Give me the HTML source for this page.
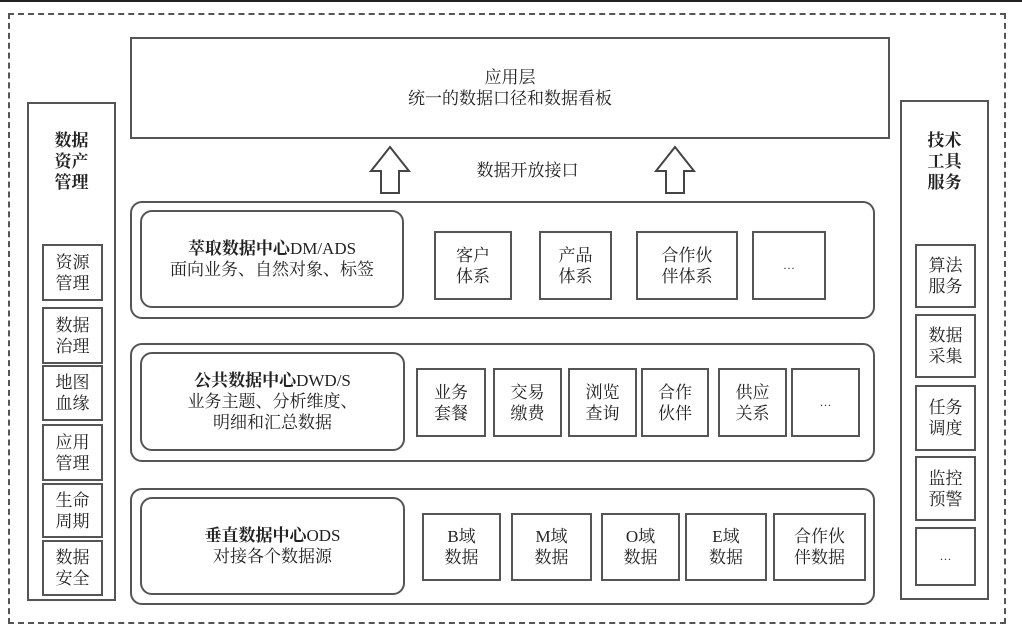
<!DOCTYPE html><html><head><meta charset="utf-8"><style>
body{margin:0;width:1022px;height:642px;background:#fff;position:relative;overflow:hidden;font-family:"Liberation Serif","Noto Serif CJK SC",serif;color:#222}
.b{position:absolute;border:2px solid #555;box-sizing:border-box;display:flex;align-items:center;justify-content:center;text-align:center;font-size:17px;line-height:21px}
.r{border-radius:12px}
.t{position:absolute;text-align:center;font-size:17px;line-height:21px}
</style></head><body>
<div style="position:absolute;left:0;top:0;width:1022px;height:2px;background:#222"></div>
<div style="position:absolute;left:8px;top:13px;width:998px;height:611px;border:2px dashed #555;box-sizing:border-box"></div>
<div class="b" style="left:130px;top:37px;width:760px;height:102px">应用层<br>统一的数据口径和数据看板</div>
<svg style="position:absolute;left:0;top:0" width="1022" height="642"><g fill="#fff" stroke="#444" stroke-width="2"><polygon points="390,147 409,171 399,171 399,193 381,193 381,171 371,171"/><polygon points="675,147 694,171 684,171 684,193 666,193 666,171 656,171"/></g></svg>
<div class="t" style="left:440px;top:160px;width:175px">数据开放接口</div>

<div class="b r" style="left:130px;top:201px;width:745px;height:118px"></div>
<div class="b r" style="left:140px;top:210px;width:264px;height:98px"><span><b>萃取数据中心</b>DM/ADS<br>面向业务、自然对象、标签</span></div>
<div class="b" style="left:434px;top:231px;width:78px;height:69px">客户<br>体系</div>
<div class="b" style="left:539px;top:231px;width:73px;height:69px">产品<br>体系</div>
<div class="b" style="left:636px;top:231px;width:102px;height:69px">合作伙<br>伴体系</div>
<div class="b" style="left:752px;top:231px;width:74px;height:69px;font-size:12px">…</div>

<div class="b r" style="left:130px;top:343px;width:745px;height:119px"></div>
<div class="b r" style="left:140px;top:352px;width:265px;height:99px"><span><b>公共数据中心</b>DWD/S<br>业务主题、分析维度、<br>明细和汇总数据</span></div>
<div class="b" style="left:416px;top:368px;width:70px;height:69px">业务<br>套餐</div>
<div class="b" style="left:493px;top:368px;width:69px;height:69px">交易<br>缴费</div>
<div class="b" style="left:568px;top:368px;width:69px;height:69px">浏览<br>查询</div>
<div class="b" style="left:641px;top:368px;width:68px;height:69px">合作<br>伙伴</div>
<div class="b" style="left:718px;top:368px;width:69px;height:69px">供应<br>关系</div>
<div class="b" style="left:791px;top:368px;width:69px;height:69px;font-size:12px">…</div>

<div class="b r" style="left:130px;top:488px;width:745px;height:117px"></div>
<div class="b r" style="left:140px;top:497px;width:265px;height:98px"><span><b>垂直数据中心</b>ODS<br>对接各个数据源</span></div>
<div class="b" style="left:422px;top:513px;width:79px;height:68px">B域<br>数据</div>
<div class="b" style="left:511px;top:513px;width:81px;height:68px">M域<br>数据</div>
<div class="b" style="left:601px;top:513px;width:79px;height:68px">O域<br>数据</div>
<div class="b" style="left:685px;top:513px;width:82px;height:68px">E域<br>数据</div>
<div class="b" style="left:773px;top:513px;width:93px;height:68px">合作伙<br>伴数据</div>

<div class="b" style="left:27px;top:102px;width:89px;height:499px"></div>
<div class="t" style="left:27px;top:130px;width:89px;font-weight:bold">数据<br>资产<br>管理</div>
<div class="b" style="left:42px;top:244px;width:61px;height:57px">资源<br>管理</div>
<div class="b" style="left:42px;top:307px;width:61px;height:57px">数据<br>治理</div>
<div class="b" style="left:42px;top:365px;width:61px;height:56px">地图<br>血缘</div>
<div class="b" style="left:42px;top:424px;width:61px;height:57px">应用<br>管理</div>
<div class="b" style="left:42px;top:483px;width:61px;height:55px">生命<br>周期</div>
<div class="b" style="left:42px;top:540px;width:61px;height:56px">数据<br>安全</div>

<div class="b" style="left:900px;top:100px;width:89px;height:500px"></div>
<div class="t" style="left:900px;top:130px;width:89px;font-weight:bold">技术<br>工具<br>服务</div>
<div class="b" style="left:915px;top:244px;width:61px;height:64px">算法<br>服务</div>
<div class="b" style="left:915px;top:314px;width:61px;height:64px">数据<br>采集</div>
<div class="b" style="left:915px;top:385px;width:61px;height:66px">任务<br>调度</div>
<div class="b" style="left:915px;top:456px;width:61px;height:65px">监控<br>预警</div>
<div class="b" style="left:915px;top:527px;width:61px;height:59px;font-size:12px">…</div>
</body></html>
